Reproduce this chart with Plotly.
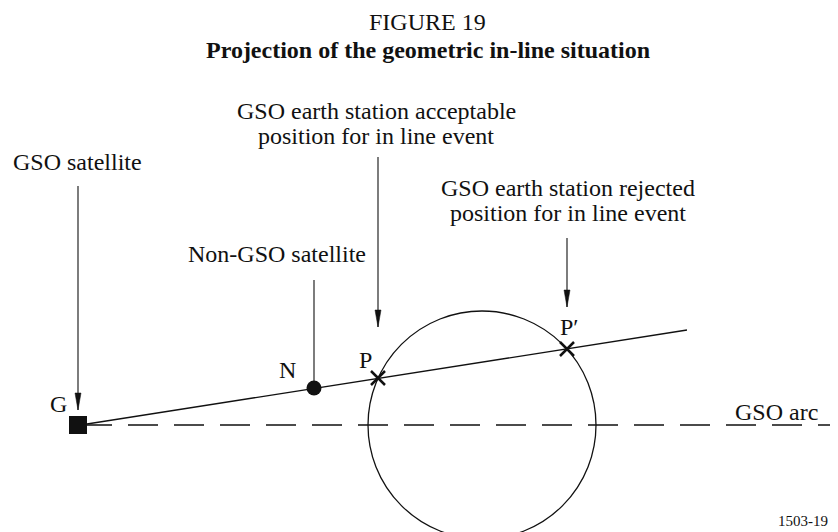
import plotly.graph_objects as go

# Diagram units match the 838x532 picture, y grows downward.
# The page body has an 8px margin, so the figure starts at (8, 8).
W, H = 838, 532
PAD = 8

# named points of the projection
point_names = ["G", "N", "P", "P′"]
point_x = [78, 314, 378, 567]
point_y = [425, 388, 378, 349]
label_x = [58, 287, 365, 569]
label_base = [412, 378, 368, 335]

# straight line from G through N, P and P'
inline_x = [87, 687]
inline_y = [424, 330]

# GSO arc (dashed)
arc_x = [82, 838]
arc_y = [425, 425]

# circle of candidate earth station positions
circle_cx, circle_cy, circle_r = 482, 425, 114

# callouts: text lines, centre x, baselines, stem x / top / end, arrow head
callout_lines = [
    ["GSO satellite"],
    ["Non-GSO satellite"],
    ["GSO earth station acceptable", "position for in line event"],
    ["GSO earth station rejected", "position for in line event"],
]
callout_x = [77, 277, 376, 568]
callout_base = [[170], [262], [119, 144], [196, 221]]
stem_x = [78, 314, 378, 567]
stem_top = [186, 280, 157, 238]
stem_end = [410, 381, 327, 307]
stem_head = [True, False, True, True]

title_top = "FIGURE 19"
title_main = "Projection of the geometric in-line situation"
arc_label = "GSO arc"
fig_code = "1503-19"

INK = "#111111"
FONT = "Liberation Serif, Times New Roman, serif"
FS = 24

fig = go.Figure()

# GSO arc
fig.add_trace(go.Scatter(x=arc_x, y=arc_y, mode="lines",
                         line=dict(color=INK, width=1.3, dash="30px,16px"),
                         hoverinfo="skip"))
# in-line line
fig.add_trace(go.Scatter(x=inline_x, y=inline_y, mode="lines",
                         line=dict(color=INK, width=1.3), hoverinfo="skip"))

# circle
fig.add_shape(type="circle", xref="x", yref="y",
              x0=circle_cx - circle_r, x1=circle_cx + circle_r,
              y0=circle_cy - circle_r, y1=circle_cy + circle_r,
              line=dict(color=INK, width=1.3), layer="below")

# G square, N dot, P / P' crosses
fig.add_trace(go.Scatter(x=point_x[:1], y=point_y[:1], mode="markers",
                         marker=dict(symbol="square", size=18, color=INK), hoverinfo="skip"))
fig.add_trace(go.Scatter(x=point_x[1:2], y=point_y[1:2], mode="markers",
                         marker=dict(symbol="circle", size=15, color=INK), hoverinfo="skip"))
fig.add_trace(go.Scatter(x=point_x[2:], y=point_y[2:], mode="markers",
                         marker=dict(symbol="x-thin", size=14, color=INK,
                                     line=dict(color=INK, width=2.5)),
                         hoverinfo="skip"))

# point labels
for name, lx, lb in zip(point_names, label_x, label_base):
    fig.add_annotation(x=lx, y=lb - 8, text=name, showarrow=False,
                       xanchor="center", yanchor="middle",
                       font=dict(family=FONT, size=FS, color=INK))

# callouts with stems and arrow heads
for lines, cx, bases, sx, st, se, head in zip(callout_lines, callout_x, callout_base,
                                              stem_x, stem_top, stem_end, stem_head):
    for txt, b in zip(lines, bases):
        fig.add_annotation(x=cx, y=b - 8, text=txt, showarrow=False,
                           xanchor="center", yanchor="middle",
                           font=dict(family=FONT, size=FS, color=INK))
    fig.add_shape(type="line", xref="x", yref="y", x0=sx, x1=sx, y0=st, y1=se,
                  line=dict(color=INK, width=1.1))
    if head:
        fig.add_shape(type="path", xref="x", yref="y",
                      path=f"M {sx - 3},{se - 17} L {sx + 3},{se - 17} L {sx},{se} Z",
                      fillcolor=INK, line=dict(color=INK, width=0.5))

# titles and other text
fig.add_annotation(x=427, y=22, text=title_top, showarrow=False,
                   font=dict(family=FONT, size=FS, color=INK))
fig.add_annotation(x=428, y=50, text=f"<b>{title_main}</b>", showarrow=False,
                   font=dict(family=FONT, size=FS, color=INK))
fig.add_annotation(x=776, y=412, text=arc_label, showarrow=False,
                   font=dict(family=FONT, size=FS, color=INK))
fig.add_annotation(x=830, y=531, text=fig_code, showarrow=False,
                   xanchor="right", yanchor="bottom",
                   font=dict(family=FONT, size=15, color=INK))

fig.update_layout(
    width=W - PAD, height=H - PAD,
    margin=dict(l=0, r=0, t=0, b=0),
    paper_bgcolor="white", plot_bgcolor="white",
    showlegend=False,
    xaxis=dict(range=[PAD, W], visible=False, fixedrange=True),
    yaxis=dict(range=[H, PAD], visible=False, fixedrange=True),
)

fig.write_html("out.html")
